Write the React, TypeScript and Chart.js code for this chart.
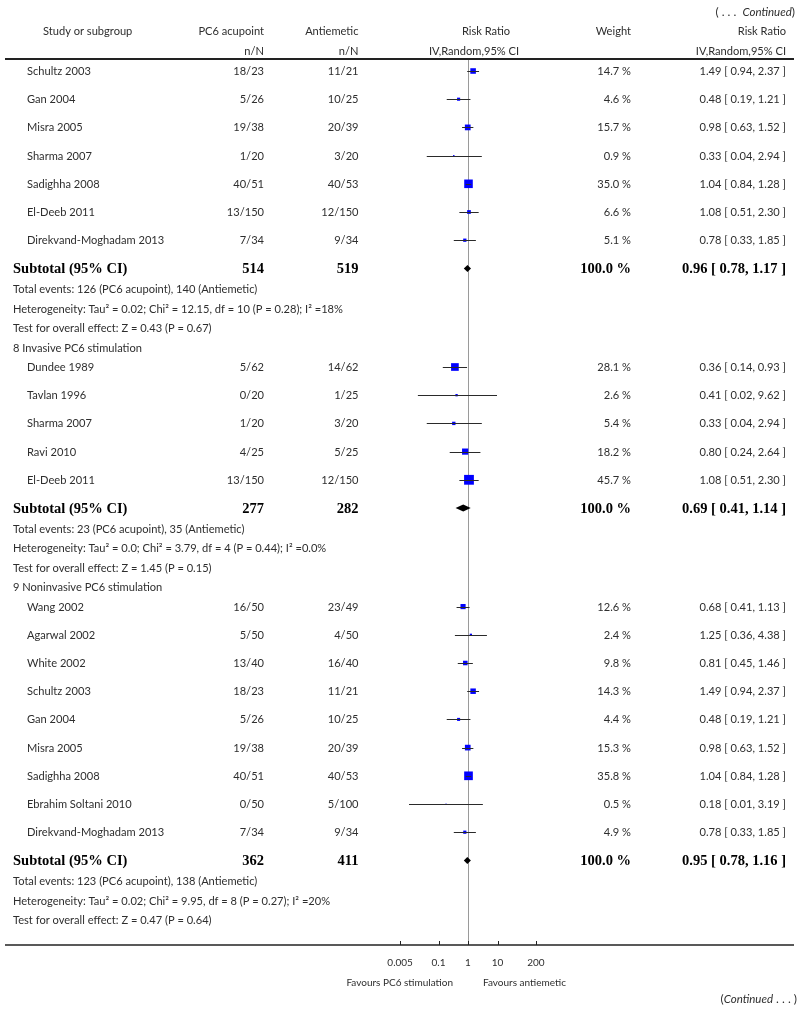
import React, { useEffect, useRef } from "react";
import { Chart, registerables } from "chart.js";

Chart.register(...registerables);

// ---------------- DATA ----------------
// Subgroup continued from previous page (no title shown)
const G0_STUDIES = ["Schultz 2003", "Gan 2004", "Misra 2005", "Sharma 2007", "Sadighha 2008", "El-Deeb 2011", "Direkvand-Moghadam 2013"];
const G0_PC6 = ["18/23", "5/26", "19/38", "1/20", "40/51", "13/150", "7/34"];
const G0_ANTI = ["11/21", "10/25", "20/39", "3/20", "40/53", "12/150", "9/34"];
const G0_WEIGHT = [14.7, 4.6, 15.7, 0.9, 35.0, 6.6, 5.1];
const G0_RR = [1.49, 0.48, 0.98, 0.33, 1.04, 1.08, 0.78];
const G0_LO = [0.94, 0.19, 0.63, 0.04, 0.84, 0.51, 0.33];
const G0_HI = [2.37, 1.21, 1.52, 2.94, 1.28, 2.30, 1.85];

// 8 Invasive PC6 stimulation
const G8_STUDIES = ["Dundee 1989", "Tavlan 1996", "Sharma 2007", "Ravi 2010", "El-Deeb 2011"];
const G8_PC6 = ["5/62", "0/20", "1/20", "4/25", "13/150"];
const G8_ANTI = ["14/62", "1/25", "3/20", "5/25", "12/150"];
const G8_WEIGHT = [28.1, 2.6, 5.4, 18.2, 45.7];
const G8_RR = [0.36, 0.41, 0.33, 0.80, 1.08];
const G8_LO = [0.14, 0.02, 0.04, 0.24, 0.51];
const G8_HI = [0.93, 9.62, 2.94, 2.64, 2.30];

// 9 Noninvasive PC6 stimulation
const G9_STUDIES = ["Wang 2002", "Agarwal 2002", "White 2002", "Schultz 2003", "Gan 2004", "Misra 2005", "Sadighha 2008", "Ebrahim Soltani 2010", "Direkvand-Moghadam 2013"];
const G9_PC6 = ["16/50", "5/50", "13/40", "18/23", "5/26", "19/38", "40/51", "0/50", "7/34"];
const G9_ANTI = ["23/49", "4/50", "16/40", "11/21", "10/25", "20/39", "40/53", "5/100", "9/34"];
const G9_WEIGHT = [12.6, 2.4, 9.8, 14.3, 4.4, 15.3, 35.8, 0.5, 4.9];
const G9_RR = [0.68, 1.25, 0.81, 1.49, 0.48, 0.98, 1.04, 0.18, 0.78];
const G9_LO = [0.41, 0.36, 0.45, 0.94, 0.19, 0.63, 0.84, 0.01, 0.33];
const G9_HI = [1.13, 4.38, 1.46, 2.37, 1.21, 1.52, 1.28, 3.19, 1.85];

const GROUP_TITLES = ["", "8 Invasive PC6 stimulation", "9 Noninvasive PC6 stimulation"];
const SUB_N_PC6 = [514, 277, 362];
const SUB_N_ANTI = [519, 282, 411];
const SUB_WEIGHT = [100.0, 100.0, 100.0];
const SUB_RR = [0.96, 0.69, 0.95];
const SUB_LO = [0.78, 0.41, 0.78];
const SUB_HI = [1.17, 1.14, 1.16];
const EVENTS_PC6 = [126, 23, 123];
const EVENTS_ANTI = [140, 35, 138];
const HET_TAU2 = ["0.02", "0.0", "0.02"];
const HET_CHI2 = ["12.15", "3.79", "9.95"];
const HET_DF = [10, 4, 8];
const HET_P = ["0.28", "0.44", "0.27"];
const HET_I2 = ["18%", "0.0%", "20%"];
const EFFECT_Z = ["0.43", "1.45", "0.47"];
const EFFECT_P = ["0.67", "0.15", "0.64"];

const AXIS_TICKS = [0.005, 0.1, 1, 10, 200];
const AXIS_TICK_LABELS = ["0.005", "0.1", "1", "10", "200"];

// ---------------- LAYOUT / STYLE ----------------
const W = 800;
const H = 1010;
const SANS = "Lato, 'Open Sans', sans-serif";
const F_REG = `11.1px ${SANS}`;
const F_SMALL = `10px ${SANS}`;
const F_ITAL = `italic 11.5px ${SANS}`;
const F_PAREN = `12px ${SANS}`;
const F_BOLD = `bold 14.5px 'Liberation Serif', 'Times New Roman', serif`;
const TXT = "#2e2e2e";

const FIRST_ROW = 71;
const STUDY_STEP = 28.2;
const TEXT_STEP = 19.4;
const SUB_GAP = 21;
const HEADER_RULE = 59;
const AXIS_Y = 945;
const X_LEFT = 5;
const X_RIGHT = 794;
// log scale: value 1 at pixel 468, 29.5 px per decade
const X_MIN = Math.pow(10, -468 / 29.5);
const X_MAX = Math.pow(10, (W - 468) / 29.5);

const COL_NAME = 27;
const COL_LEFT = 13;
const COL_PC6 = 264;
const COL_ANTI = 358.5;
const COL_WEIGHT = 631;
const COL_RR = 786;

type Row = {
  kind: "title" | "study" | "subtotal" | "text";
  y: number;
  cells?: string[];
  w?: number;
  rr?: number;
  lo?: number;
  hi?: number;
  text?: string;
};

const groups = [
  { s: G0_STUDIES, p: G0_PC6, a: G0_ANTI, w: G0_WEIGHT, rr: G0_RR, lo: G0_LO, hi: G0_HI },
  { s: G8_STUDIES, p: G8_PC6, a: G8_ANTI, w: G8_WEIGHT, rr: G8_RR, lo: G8_LO, hi: G8_HI },
  { s: G9_STUDIES, p: G9_PC6, a: G9_ANTI, w: G9_WEIGHT, rr: G9_RR, lo: G9_LO, hi: G9_HI },
];

const fmtCI = (r: number, l: number, h: number) => `${r.toFixed(2)} [ ${l.toFixed(2)}, ${h.toFixed(2)} ]`;

function buildRows(): Row[] {
  const rows: Row[] = [];
  let y = FIRST_ROW;
  groups.forEach((g, gi) => {
    if (GROUP_TITLES[gi]) {
      rows.push({ kind: "title", y, text: GROUP_TITLES[gi] });
      y += TEXT_STEP;
    }
    g.s.forEach((name, i) => {
      rows.push({
        kind: "study",
        y,
        cells: [name, g.p[i], g.a[i], `${g.w[i].toFixed(1)} %`, fmtCI(g.rr[i], g.lo[i], g.hi[i])],
        w: g.w[i],
        rr: g.rr[i],
        lo: g.lo[i],
        hi: g.hi[i],
      });
      y += STUDY_STEP;
    });
    rows.push({
      kind: "subtotal",
      y,
      cells: ["Subtotal (95% CI)", String(SUB_N_PC6[gi]), String(SUB_N_ANTI[gi]), `${SUB_WEIGHT[gi].toFixed(1)} %`, fmtCI(SUB_RR[gi], SUB_LO[gi], SUB_HI[gi])],
      rr: SUB_RR[gi],
      lo: SUB_LO[gi],
      hi: SUB_HI[gi],
    });
    y += SUB_GAP;
    rows.push({ kind: "text", y, text: `Total events: ${EVENTS_PC6[gi]} (PC6 acupoint), ${EVENTS_ANTI[gi]} (Antiemetic)` });
    y += TEXT_STEP;
    rows.push({
      kind: "text",
      y,
      text: `Heterogeneity: Tau\u00B2 = ${HET_TAU2[gi]}; Chi\u00B2 = ${HET_CHI2[gi]}, df = ${HET_DF[gi]} (P = ${HET_P[gi]}); I\u00B2 =${HET_I2[gi]}`,
    });
    y += TEXT_STEP;
    rows.push({ kind: "text", y, text: `Test for overall effect: Z = ${EFFECT_Z[gi]} (P = ${EFFECT_P[gi]})` });
    y += TEXT_STEP;
  });
  return rows;
}

const ROWS = buildRows();
const STUDY_ROWS = ROWS.filter((r) => r.kind === "study");
const SUB_ROWS = ROWS.filter((r) => r.kind === "subtotal");

function text(ctx: CanvasRenderingContext2D, s: string, x: number, y: number, align: CanvasTextAlign, font: string, color = TXT, capRatio = 0.36) {
  ctx.font = font;
  ctx.fillStyle = color;
  ctx.textAlign = align;
  ctx.textBaseline = "alphabetic";
  const m = font.match(/([\d.]+)px/);
  const size = m ? parseFloat(m[1]) : 11;
  ctx.fillText(s, x, y + size * capRatio);
}

// draw a sequence of [text, font] parts, right aligned at x
function partsRight(ctx: CanvasRenderingContext2D, parts: [string, string][], x: number, y: number) {
  let total = 0;
  parts.forEach(([s, f]) => {
    ctx.font = f;
    total += ctx.measureText(s).width;
  });
  let cx = x - total;
  parts.forEach(([s, f]) => {
    text(ctx, s, cx, y, "left", f);
    ctx.font = f;
    cx += ctx.measureText(s).width;
  });
}

const forestPlugin = {
  id: "forest",
  beforeDatasetsDraw(chart: any) {
    const ctx: CanvasRenderingContext2D = chart.ctx;
    const xs = chart.scales.x;
    const ys = chart.scales.y;
    ctx.save();
    // reference line at RR = 1
    const x1 = Math.round(xs.getPixelForValue(1)) + 0.5;
    ctx.strokeStyle = "#9a9a9a";
    ctx.lineWidth = 1;
    ctx.beginPath();
    ctx.moveTo(x1, ys.getPixelForValue(HEADER_RULE));
    ctx.lineTo(x1, ys.getPixelForValue(AXIS_Y));
    ctx.stroke();
    // header rule
    ctx.strokeStyle = "#222";
    ctx.lineWidth = 2;
    ctx.beginPath();
    ctx.moveTo(X_LEFT, ys.getPixelForValue(HEADER_RULE));
    ctx.lineTo(X_RIGHT, ys.getPixelForValue(HEADER_RULE));
    ctx.stroke();
    // axis line
    ctx.lineWidth = 1.5;
    ctx.beginPath();
    ctx.moveTo(X_LEFT, ys.getPixelForValue(AXIS_Y));
    ctx.lineTo(X_RIGHT, ys.getPixelForValue(AXIS_Y));
    ctx.stroke();
    // ticks
    ctx.lineWidth = 1;
    AXIS_TICKS.forEach((t) => {
      const px = Math.round(xs.getPixelForValue(t)) + 0.5;
      ctx.beginPath();
      ctx.moveTo(px, ys.getPixelForValue(AXIS_Y));
      ctx.lineTo(px, ys.getPixelForValue(AXIS_Y - 4));
      ctx.stroke();
    });
    ctx.restore();
  },
  afterDatasetsDraw(chart: any) {
    const ctx: CanvasRenderingContext2D = chart.ctx;
    const xs = chart.scales.x;
    const ys = chart.scales.y;
    ctx.save();
    // CI lines
    ctx.strokeStyle = "#2a2a2a";
    ctx.lineWidth = 1;
    STUDY_ROWS.forEach((r) => {
      const py = Math.round(ys.getPixelForValue(r.y)) + 0.5;
      ctx.beginPath();
      ctx.moveTo(xs.getPixelForValue(r.lo), py);
      ctx.lineTo(xs.getPixelForValue(r.hi), py);
      ctx.stroke();
    });
    // diamonds
    ctx.fillStyle = "#000";
    SUB_ROWS.forEach((r) => {
      const py = ys.getPixelForValue(r.y);
      const l = xs.getPixelForValue(r.lo);
      const h = xs.getPixelForValue(r.hi);
      const c = xs.getPixelForValue(r.rr);
      ctx.beginPath();
      ctx.moveTo(l - 1, py);
      ctx.lineTo(c, py - 3.5);
      ctx.lineTo(h + 1, py);
      ctx.lineTo(c, py + 3.5);
      ctx.closePath();
      ctx.fill();
    });

    // header texts
    const hy1 = ys.getPixelForValue(31);
    const hy2 = ys.getPixelForValue(51);
    partsRight(ctx, [["( . . .  ", F_PAREN], ["Continued", F_ITAL], [")", F_PAREN]], 795, ys.getPixelForValue(12));
    text(ctx, "Study or subgroup", 43, hy1, "left", F_REG);
    text(ctx, "PC6 acupoint", COL_PC6, hy1, "right", F_REG);
    text(ctx, "n/N", COL_PC6, hy2, "right", F_REG);
    text(ctx, "Antiemetic", COL_ANTI, hy1, "right", F_REG);
    text(ctx, "n/N", COL_ANTI, hy2, "right", F_REG);
    text(ctx, "Risk Ratio", 486, hy1, "center", F_REG);
    text(ctx, "IV,Random,95% CI", 474, hy2, "center", F_REG);
    text(ctx, "Weight", COL_WEIGHT, hy1, "right", F_REG);
    text(ctx, "Risk Ratio", COL_RR, hy1, "right", F_REG);
    text(ctx, "IV,Random,95% CI", COL_RR, hy2, "right", F_REG);

    ROWS.forEach((r) => {
      const py = ys.getPixelForValue(r.y);
      if (r.kind === "study" && r.cells) {
        text(ctx, r.cells[0], COL_NAME, py, "left", F_REG);
        text(ctx, r.cells[1], COL_PC6, py, "right", F_REG);
        text(ctx, r.cells[2], COL_ANTI, py, "right", F_REG);
        text(ctx, r.cells[3], COL_WEIGHT, py, "right", F_REG);
        text(ctx, r.cells[4], COL_RR, py, "right", F_REG);
      } else if (r.kind === "subtotal" && r.cells) {
        text(ctx, r.cells[0], COL_LEFT, py, "left", F_BOLD, "#000", 0.33);
        text(ctx, r.cells[1], COL_PC6, py, "right", F_BOLD, "#000", 0.33);
        text(ctx, r.cells[2], COL_ANTI, py, "right", F_BOLD, "#000", 0.33);
        text(ctx, r.cells[3], COL_WEIGHT, py, "right", F_BOLD, "#000", 0.33);
        text(ctx, r.cells[4], COL_RR, py, "right", F_BOLD, "#000", 0.33);
      } else if (r.text) {
        text(ctx, r.text, COL_LEFT, py, "left", F_REG);
      }
    });

    // axis tick labels
    const ty = ys.getPixelForValue(962);
    AXIS_TICKS.forEach((t, i) => {
      text(ctx, AXIS_TICK_LABELS[i], xs.getPixelForValue(t), ty, "center", F_SMALL);
    });
    const fy = ys.getPixelForValue(982);
    text(ctx, "Favours PC6 stimulation", 453, fy, "right", F_SMALL);
    text(ctx, "Favours antiemetic", 483, fy, "left", F_SMALL);
    partsRight(ctx, [["(", F_PAREN], ["Continued", F_ITAL], [" . . . )", F_PAREN]], 797, ys.getPixelForValue(999));
    ctx.restore();
  },
};

export default function App() {
  const ref = useRef<HTMLCanvasElement | null>(null);
  useEffect(() => {
    document.body.style.margin = "0";
    const canvas = ref.current;
    if (!canvas) return;
    const chart = new Chart(canvas, {
      type: "scatter",
      data: {
        datasets: [
          {
            label: "Studies",
            data: STUDY_ROWS.map((r) => ({ x: r.rr as number, y: r.y })),
            pointStyle: "rect",
            // square side ~ 1.45 * sqrt(weight); Chart.js rect side = sqrt(2) * radius
            pointRadius: STUDY_ROWS.map((r) => (1.45 * Math.sqrt(r.w as number)) / Math.SQRT2),
            pointBackgroundColor: "#0000ff",
            pointBorderWidth: 0,
            pointBorderColor: "#0000ff",
          },
        ],
      },
      options: {
        animation: false,
        responsive: false,
        devicePixelRatio: 1,
        layout: { padding: 0, autoPadding: false },
        plugins: { legend: { display: false }, tooltip: { enabled: false }, title: { display: false } },
        events: [],
        scales: {
          x: { type: "logarithmic", min: X_MIN, max: X_MAX, display: false },
          y: { type: "linear", min: 0, max: H, reverse: true, display: false },
        },
      },
      plugins: [forestPlugin],
    });
    return () => chart.destroy();
  }, []);
  return (
    <div style={{ width: W, height: H, background: "#fff" }}>
      <canvas ref={ref} width={W} height={H} style={{ display: "block", width: W, height: H }} />
    </div>
  );
}
